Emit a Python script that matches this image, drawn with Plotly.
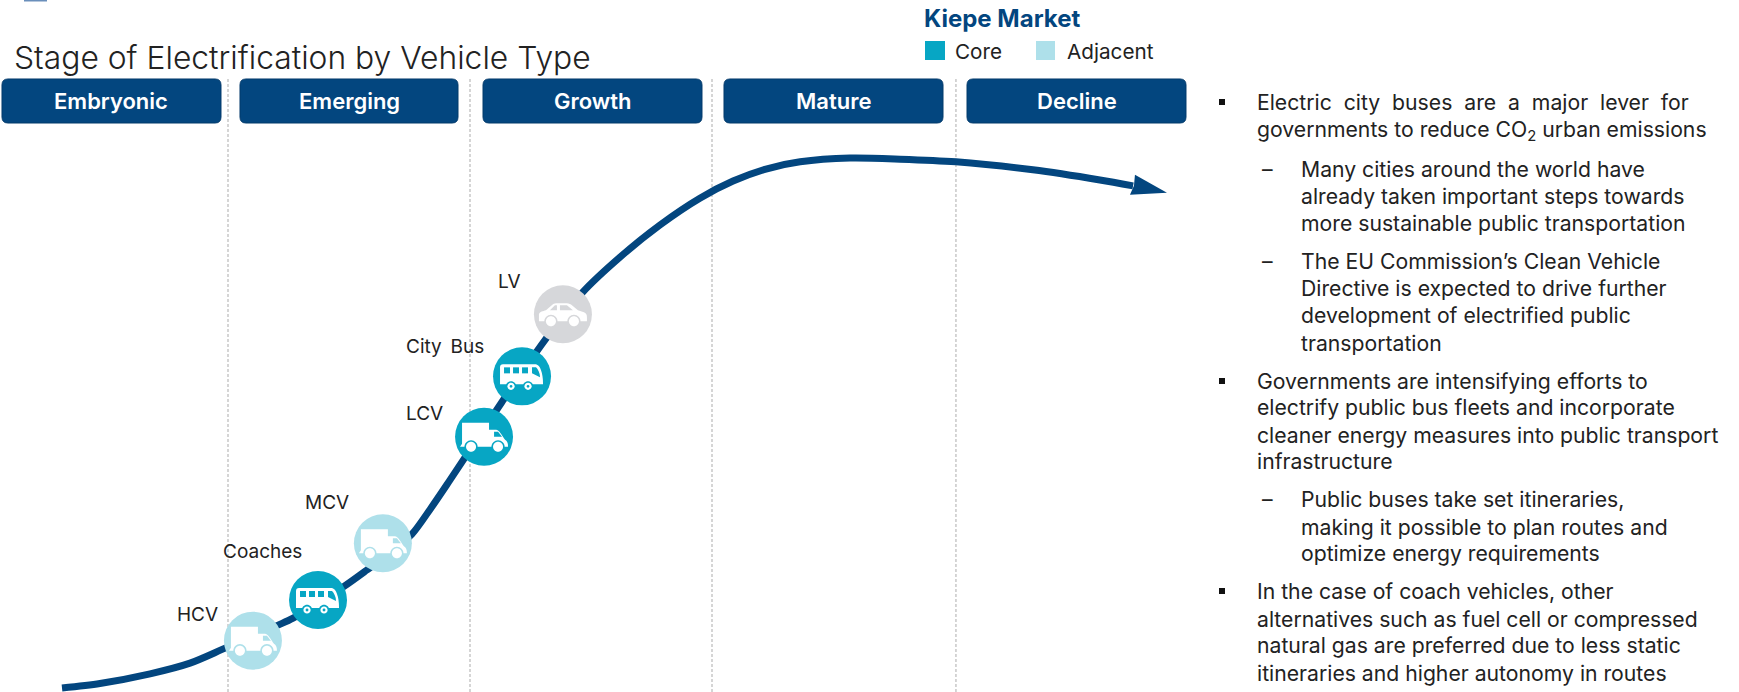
import plotly.graph_objects as go

WIDTH, HEIGHT = 1739, 692
FONT = "Inter"
NAVY = "#03467f"
CORE = "#07a6c4"
ADJACENT = "#aee0ea"
NEUTRAL = "#d6d7da"
INK = "#222222"

# Stage axis: one unit per lifecycle stage. Level axis: arbitrary adoption index.
PX_PER_STAGE = 242.0
STAGE_ORIGIN_PX = -14.0
PX_PER_LEVEL = 5.35

stages = ["Embryonic", "Emerging", "Growth", "Mature", "Decline"]
stage_boundaries = [1.0, 2.0, 3.0, 4.008]

# Adoption curve, stage position against level
curve_stage = [0.314, 0.471, 0.678, 0.843, 0.988, 1.207, 1.269, 1.475, 1.574, 1.669, 1.760, 1.839,
               1.917, 2.132, 2.310, 2.467, 2.620, 2.785, 2.950, 3.087, 3.227, 3.364, 3.570, 3.777,
               4.008, 4.326, 4.603, 4.740]
curve_level = [0.75, 1.6, 3.4, 5.4, 8.2, 12.5, 13.8, 19.6, 22.8, 26.0, 29.5, 34.4,
               39.6, 54.2, 65.8, 74.8, 81.3, 87.3, 92.3, 95.5, 97.8, 99.1, 99.8, 99.6,
               99.1, 97.6, 95.7, 94.6]
arrow_tip = (4.88, 93.3)

vehicles = ["HCV", "Coaches", "MCV", "LCV", "City Bus", "LV"]
vehicle_stage = [1.103, 1.372, 1.640, 2.058, 2.215, 2.384]
vehicle_level = [9.6, 17.2, 27.8, 47.7, 59.0, 70.6]
vehicle_market = ["Adjacent", "Core", "Adjacent", "Core", "Core", "Other"]
vehicle_icon = ["truck", "bus", "truck", "truck", "bus", "car"]

market_colors = {"Core": CORE, "Adjacent": ADJACENT, "Other": NEUTRAL}

commentary = [
    ("bullet", "Electric\u00a0 city\u00a0 buses\u00a0 are\u00a0 a\u00a0 major\u00a0 lever\u00a0 for"),
    ("cont", "governments to reduce CO<sub>2</sub> urban emissions"),
    ("dash", "Many cities around the world have"),
    ("subcont", "already taken important steps towards"),
    ("subcont", "more sustainable public transportation"),
    ("dash", "The EU Commission\u2019s Clean Vehicle"),
    ("subcont", "Directive is expected to drive further"),
    ("subcont", "development of electrified public"),
    ("subcont", "transportation"),
    ("bullet", "Governments are intensifying efforts to"),
    ("cont", "electrify public bus fleets and incorporate"),
    ("cont", "cleaner energy measures into public transport"),
    ("cont", "infrastructure"),
    ("dash", "Public buses take set itineraries,"),
    ("subcont", "making it possible to plan routes and"),
    ("subcont", "optimize energy requirements"),
    ("bullet", "In the case of coach vehicles, other"),
    ("cont", "alternatives such as fuel cell or compressed"),
    ("cont", "natural gas are preferred due to less static"),
    ("cont", "itineraries and higher autonomy in routes"),
]
commentary_rows = [102, 130, 169, 196, 223, 261, 288, 315, 343, 381, 407, 435, 461,
                   499, 527, 553, 591, 619, 645, 673]


def px(x):
    return x / WIDTH


def py(y):
    return 1 - y / HEIGHT


fig = go.Figure()
shapes = []
annotations = []


def label(x, y, text, size=21.2, color=INK, anchor="left", weight=400):
    annotations.append(dict(
        x=px(x), y=py(y), xref="paper", yref="paper", text=text, showarrow=False,
        xanchor=anchor, yanchor="middle", align=anchor, borderpad=0,
        font=dict(family=FONT, size=size, color=color, weight=weight),
    ))


def rounded_box(x0, y0, x1, y1, r):
    """Rounded rectangle path in paper fractions, from pixel extents."""
    def p(x, y):
        return f"{px(x):.5f},{py(y):.5f}"
    return (f"M{p(x0 + r, y0)} L{p(x1 - r, y0)} Q{p(x1, y0)} {p(x1, y0 + r)} "
            f"L{p(x1, y1 - r)} Q{p(x1, y1)} {p(x1 - r, y1)} L{p(x0 + r, y1)} "
            f"Q{p(x0, y1)} {p(x0, y1 - r)} L{p(x0, y0 + r)} Q{p(x0, y0)} {p(x0 + r, y0)} Z")


# Stage dividers
for b in stage_boundaries:
    shapes.append(dict(type="line", xref="x", yref="paper", x0=b, x1=b, y0=0, y1=py(77),
                       line=dict(color="#c4c4c4", width=1.4, dash="3px,2px"), layer="below"))

# Adoption curve with its arrow head
fig.add_trace(go.Scatter(x=curve_stage, y=curve_level, mode="lines",
                         line=dict(color=NAVY, width=7, shape="spline", smoothing=0.8),
                         hoverinfo="skip", showlegend=False))
shapes.append(dict(type="path", xref="x", yref="y", xsizemode="pixel", ysizemode="pixel",
                   xanchor=arrow_tip[0], yanchor=arrow_tip[1],
                   path="M0,0 L-32,18 L-33,7 L-37,-2 Z", fillcolor=NAVY, line=dict(width=0)))

# Vehicle discs
fig.add_trace(go.Scatter(x=vehicle_stage, y=vehicle_level, mode="markers",
                         marker=dict(size=58, color=[market_colors[m] for m in vehicle_market],
                                     line=dict(width=0)),
                         hoverinfo="skip", showlegend=False))


def circle(cx, cy, r):
    """Circle as four cubic segments, in pixel offsets from the disc centre."""
    k = 0.5523 * r
    return (f"M{cx - r},{cy} C{cx - r},{cy + k} {cx - k},{cy + r} {cx},{cy + r} "
            f"C{cx + k},{cy + r} {cx + r},{cy + k} {cx + r},{cy} "
            f"C{cx + r},{cy - k} {cx + k},{cy - r} {cx},{cy - r} "
            f"C{cx - k},{cy - r} {cx - r},{cy - k} {cx - r},{cy} Z")


TRUCK_BODY = ("M-22,14 L5,14 L5,7 L12,7 C15,7 18,1 21,-3 C23,-4 24,-6 24,-10 "
              "L-24,-10 L-22,-7 Z")
TRUCK_WINDOWS = ["M10,5 L14,5 L18,0 L10,0 Z"]
TRUCK_WHEELS = [(-13, -10, 5.0), (14, -10, 5.0)]

BUS_BODY = "M-22,9 Q-22,12 -19,12 L14,12 C18,11 21,4 21,-8 L-22,-8 Z"
BUS_WINDOWS = ["M-18,9 L-12,9 L-12,3 L-18,3 Z", "M-9,9 L-3,9 L-3,3 L-9,3 Z",
               "M0,9 L6,9 L6,3 L0,3 Z", "M10,9 L14,9 C16,7 18,3 18,-1 L10,3 Z"]
BUS_WHEELS = [(-11, -10, 3.6), (6, -10, 3.6)]

CAR_BODY = ("M-24,-6 L-24,0 C-23,3 -20,3 -17,4 L-10,10 C-9,11 -7,11 -6,11 L4,11 "
            "C6,11 8,10 9,9 L15,4 L21,2 C23,1 24,0 24,-3 L24,-7 L-24,-7 Z")
CAR_WINDOWS = ["M-13,4 L-8,9 L-6,9 L-6,4 Z", "M-3,9 L4,9 L10,4 L-3,4 Z"]
CAR_WHEELS = [(-12, -7, 5.0), (11, -7, 5.0)]

ICONS = {
    "truck": (TRUCK_BODY, TRUCK_WINDOWS, TRUCK_WHEELS),
    "bus": (BUS_BODY, BUS_WINDOWS, BUS_WHEELS),
    "car": (CAR_BODY, CAR_WINDOWS, CAR_WHEELS),
}


def glyph(stage, level, path, color):
    shapes.append(dict(type="path", xref="x", yref="y", xsizemode="pixel", ysizemode="pixel",
                       xanchor=stage, yanchor=level, path=path, fillcolor=color,
                       line=dict(width=0), layer="above"))


for s, l, m, icon in zip(vehicle_stage, vehicle_level, vehicle_market, vehicle_icon):
    disc = market_colors[m]
    body, windows, wheels = ICONS[icon]
    glyph(s, l, body, "white")
    for w in windows:
        glyph(s, l, w, disc)
    for cx, cy, r in wheels:
        glyph(s, l, circle(cx, cy, r + 1.6), disc)
        glyph(s, l, circle(cx, cy, r), "white")
        if icon == "bus":
            glyph(s, l, circle(cx, cy, 1.4), disc)

# Vehicle names
name_pos = {"HCV": (176, 614), "Coaches": (222, 551), "MCV": (304, 502),
            "LCV": (405, 413), "City Bus": (405, 346), "LV": (497, 281)}
for v in vehicles:
    x, y = name_pos[v]
    label(x, y, v.replace(" ", "\u00a0\u2009"), size=19)

# Stage headers
header_spans = [(2, 221), (240, 458), (483, 702), (724, 943), (967, 1186)]
for name, (x0, x1) in zip(stages, header_spans):
    shapes.append(dict(type="path", xref="paper", yref="paper",
                       path=rounded_box(x0, 79, x1, 123, 6),
                       fillcolor=NAVY, line=dict(color="#033a6b", width=1)))
    label((x0 + x1) / 2, 101, name, size=22, color="white", anchor="center", weight=600)

# Sliver of the page heading above the chart
shapes.append(dict(type="rect", xref="paper", yref="paper", x0=px(24), x1=px(47),
                   y0=py(1.5), y1=py(0), fillcolor="#6a8fbb", line=dict(width=0)))

# Title and market key
label(13, 57, "Stage of Electrification by Vehicle Type", size=31.8, weight=300)
label(923, 19, "Kiepe Market", size=24, color=NAVY, weight=700)
shapes.append(dict(type="rect", xref="paper", yref="paper", x0=px(925), x1=px(945),
                   y0=py(60), y1=py(41), fillcolor=CORE, line=dict(width=0)))
label(954, 51, "Core", size=20.7)
shapes.append(dict(type="rect", xref="paper", yref="paper", x0=px(1036), x1=px(1055),
                   y0=py(60), y1=py(41), fillcolor=ADJACENT, line=dict(width=0)))
label(1066, 51, "Adjacent", size=20.7)

# Commentary column
for (kind, text), y in zip(commentary, commentary_rows):
    if kind == "bullet":
        shapes.append(dict(type="rect", xref="paper", yref="paper", x0=px(1219), x1=px(1225),
                           y0=py(y + 3), y1=py(y - 3), fillcolor="#111111", line=dict(width=0)))
        label(1256, y, text)
    elif kind == "cont":
        label(1256, y, text)
    elif kind == "dash":
        label(1261, y, "\u2013")
        label(1300, y, text)
    else:
        label(1300, y, text)

fig.update_layout(
    width=WIDTH, height=HEIGHT, margin=dict(l=0, r=0, t=0, b=0, pad=0),
    paper_bgcolor="white", plot_bgcolor="white", showlegend=False,
    xaxis=dict(range=[-STAGE_ORIGIN_PX / PX_PER_STAGE, (WIDTH - STAGE_ORIGIN_PX) / PX_PER_STAGE],
               visible=False, fixedrange=True),
    yaxis=dict(range=[0, HEIGHT / PX_PER_LEVEL], visible=False, fixedrange=True),
    shapes=shapes, annotations=annotations,
)
fig.write_html("out.html", config={"displayModeBar": False})
